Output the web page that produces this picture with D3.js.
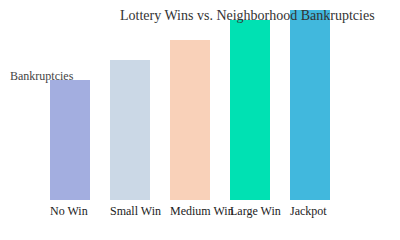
<!DOCTYPE html>
<html>
<head>
<meta charset="utf-8">
<script src="https://cdn.jsdelivr.net/npm/d3@7"></script>
<style>
  body { margin: 0; background: white; }
  text { font-family: "Liberation Serif", serif; }
</style>
</head>
<body>
<div id="chart"></div>
<script>
const categories = ['No Win', 'Small Win', 'Medium Win', 'Large Win', 'Jackpot'];
const bankruptcies = [12, 14, 16, 18, 19];
const colors = ['#a3aee0', '#cbd8e6', '#f9d1b9', '#00e1b3', '#41b8dd'];

const width = 400;
const height = 240;

const svg = d3.select('#chart')
    .append('svg')
    .attr('width', width)
    .attr('height', height);

const xScale = d3.scaleBand()
    .domain(categories)
    .range([50, 330])
    .paddingInner(1 / 3)
    .paddingOuter(0);

const yScale = d3.scaleLinear()
    .domain([0, 19])
    .range([200, 10]);

const colorScale = d3.scaleOrdinal()
    .domain(categories)
    .range(colors);

svg.selectAll('rect')
    .data(categories)
    .enter()
    .append('rect')
    .attr('x', d => xScale(d))
    .attr('y', (d, i) => yScale(bankruptcies[i]))
    .attr('width', xScale.bandwidth())
    .attr('height', (d, i) => yScale(0) - yScale(bankruptcies[i]))
    .attr('fill', d => colorScale(d));

svg.selectAll('.cat-label')
    .data(categories)
    .enter()
    .append('text')
    .attr('class', 'cat-label')
    .attr('x', d => xScale(d))
    .attr('y', 215)
    .style('font-size', '12px')
    .attr('fill', '#222')
    .text(d => d);

svg.append('text')
    .attr('x', 120)
    .attr('y', 20)
    .style('font-size', '14px')
    .attr('fill', '#333')
    .text('Lottery Wins vs. Neighborhood Bankruptcies');

svg.append('text')
    .attr('x', 10)
    .attr('y', 80)
    .style('font-size', '12px')
    .attr('fill', '#444')
    .text('Bankruptcies');
</script>
</body>
</html>
